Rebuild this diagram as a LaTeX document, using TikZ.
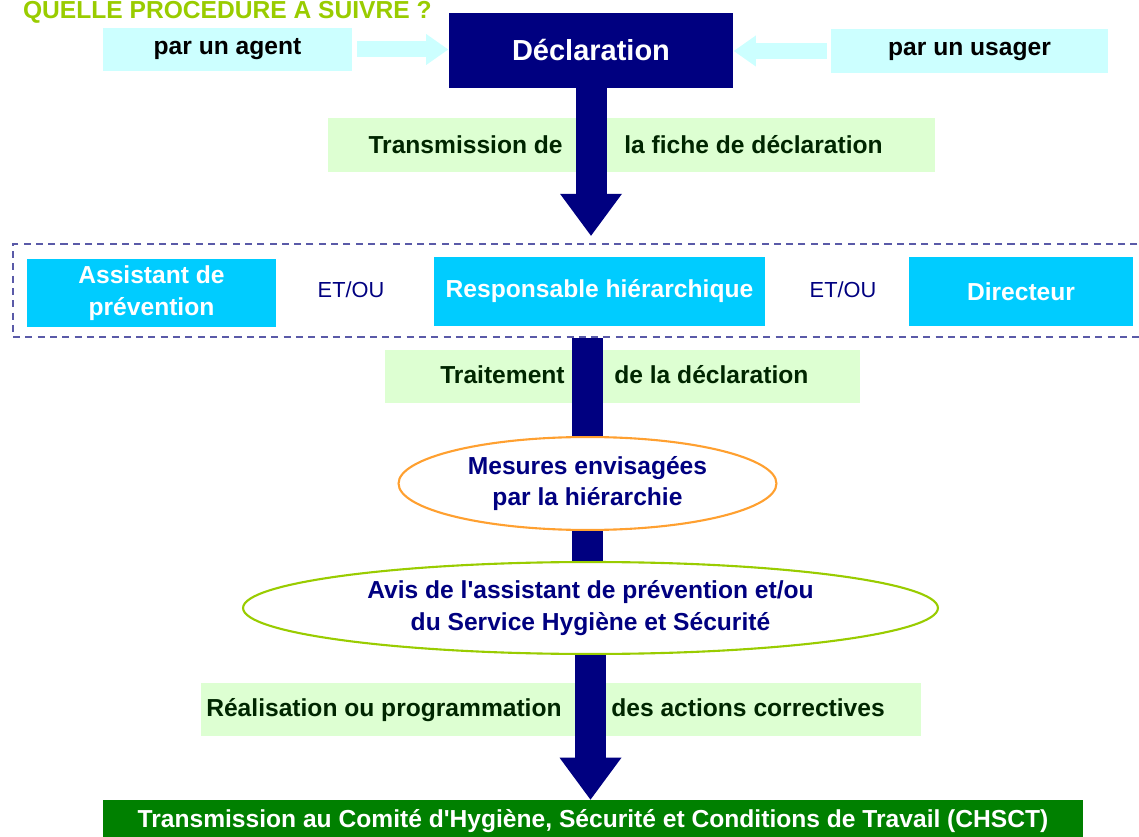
\documentclass[tikz,border=0pt]{standalone}
\usepackage{fontspec}
\setmainfont{Liberation Sans}
\usepackage{tikz}
\usetikzlibrary{arrows.meta,shapes.geometric,positioning}
\definecolor{navy}{HTML}{000080}
\definecolor{paleCyan}{HTML}{CCFFFF}
\definecolor{skyCyan}{HTML}{00CCFF}
\definecolor{paleGreen}{HTML}{DDFFD2}
\definecolor{darkGreen}{HTML}{008000}
\definecolor{limeGreen}{HTML}{99CC00}
\definecolor{orangeLine}{HTML}{FFA030}
\definecolor{frameBlue}{HTML}{5A5AA8}
\tikzset{
  srcbox/.style={fill=paleCyan, minimum height=0.87cm, inner sep=0pt,
    font=\fontsize{14pt}{16pt}\selectfont\bfseries}, % par un ...
  declbox/.style={fill=navy, text=white, minimum width=5.7cm, minimum height=1.5cm,
    inner sep=0pt, font=\fontsize{16.5pt}{18pt}\selectfont\bfseries},
  lblbox/.style={fill=paleGreen, minimum height=1.08cm, inner sep=0pt},
  lbltext/.style={inner sep=0pt, text=black!85!green,
    font=\fontsize{14pt}{16pt}\selectfont\bfseries},
  rolebox/.style={fill=skyCyan, text=white, minimum height=1.38cm, inner sep=0pt,
    align=center, font=\fontsize{14pt}{18pt}\selectfont\bfseries},
  etou/.style={text=navy, inner sep=0pt, font=\fontsize{12.4pt}{14pt}\selectfont},
  frame/.style={draw=frameBlue, line width=1.4pt, dash pattern=on 4pt off 3pt,
    minimum width=22.74cm, minimum height=1.86cm, inner sep=0pt},
  oval/.style={ellipse, fill=white, line width=1.2pt, inner sep=0pt, align=center,
    text=navy, font=\fontsize{14pt}{18pt}\selectfont\bfseries},
  chsctbox/.style={fill=darkGreen, text=white, minimum width=19.6cm, minimum height=0.84cm,
    inner sep=0pt, font=\fontsize{14pt}{16pt}\selectfont\bfseries},
  titletext/.style={text=limeGreen, inner sep=0pt, font=\fontsize{14pt}{16pt}\selectfont\bfseries},
  fatline/.style={draw=navy, line width=0.62cm},
  fatarrow/.style={fatline, -{Triangle[width=1.24cm,length=0.84cm,line width=0pt]}},
  palearrow/.style={draw=paleCyan, line width=0.32cm,
    -{Triangle[width=0.62cm,length=0.44cm,line width=0pt]}},
}

\begin{document}
\begin{tikzpicture}[x=0.02cm, y=-0.02cm]
\useasboundingbox (0,0) rectangle (1139,837);
\clip (0,0) rectangle (1139,837);
% titre
\node[titletext, anchor=base east] (title) at (432,19) {QUELLE PROCEDURE A SUIVRE ?};

% declaration
\node[srcbox, minimum width=4.98cm] (agent) at (227.5,49.5) {par un agent};
\node[declbox] (decl) at (591,50.5) {Déclaration};
\node[srcbox, minimum width=5.54cm] (usager) at (969.5,51) {par un usager};
\draw[palearrow, shorten <=0.1cm] (agent.east) -- (decl.west |- agent.east);
\draw[palearrow, shorten <=0.08cm] (usager.west) -- (decl.east |- usager.west);

% bandeaux verts
\node[lblbox, minimum width=12.14cm] (transLbl) at (631.5,145) {};
\node[lbltext, anchor=base east] (transL) at (563,154) {Transmission de};
\node[lbltext, anchor=base west] (transR) at (624,154) {la fiche de déclaration};
\node[lblbox, minimum width=9.5cm] (traitLbl) at (622.5,376.5) {};
\node[lbltext, anchor=base east] (traitL) at (565,384) {Traitement};
\node[lbltext, anchor=base west] (traitR) at (614,384) {de la déclaration};
\node[lblbox, minimum width=14.4cm] (realLbl) at (561,709.5) {};
\node[lbltext, anchor=base east] (realL) at (562,716) {Réalisation ou programmation};
\node[lbltext, anchor=base west] (realR) at (611,716) {des actions correctives};

% acteurs
\node[frame] (frame) at (581.5,290.5) {};
\node[rolebox, minimum width=4.98cm] (assist) at (151.5,293) {Assistant de\\prévention};
\node[etou] (etouA) at (351,290) {ET/OU};
\node[rolebox, minimum width=6.62cm] (resp) at (599.5,291.5) {Responsable hiérarchique};
\node[etou] (etouB) at (843,290) {ET/OU};
\node[rolebox, minimum width=4.48cm] (dir) at (1021,291.5) {Directeur};

% suite
\node[oval, draw=orangeLine, minimum width=7.56cm, minimum height=1.86cm]
  (mesures) at (587.5,483.5) {Mesures envisagées\\par la hiérarchie};
\node[oval, draw=limeGreen, minimum width=13.9cm, minimum height=1.84cm]
  (avis) at (590.5,608) {Avis de l\textquotesingle assistant de prévention et/ou\\du Service Hygiène et Sécurité};
\node[chsctbox] (chsct) at (593,821)
  {Transmission au Comité d\textquotesingle Hygiène, Sécurité et Conditions de Travail (CHSCT)};

% fleches
\draw[fatarrow, shorten >=0.14cm] (decl.south) -- (decl.south |- frame.north);
\draw[fatline] (mesures.north |- frame.south) -- (mesures.north);
\draw[fatline] (mesures.south) -- (mesures.south |- avis.north);
\draw[fatarrow] (avis.south) -- (avis.south |- chsct.north);
\end{tikzpicture}
\end{document}
